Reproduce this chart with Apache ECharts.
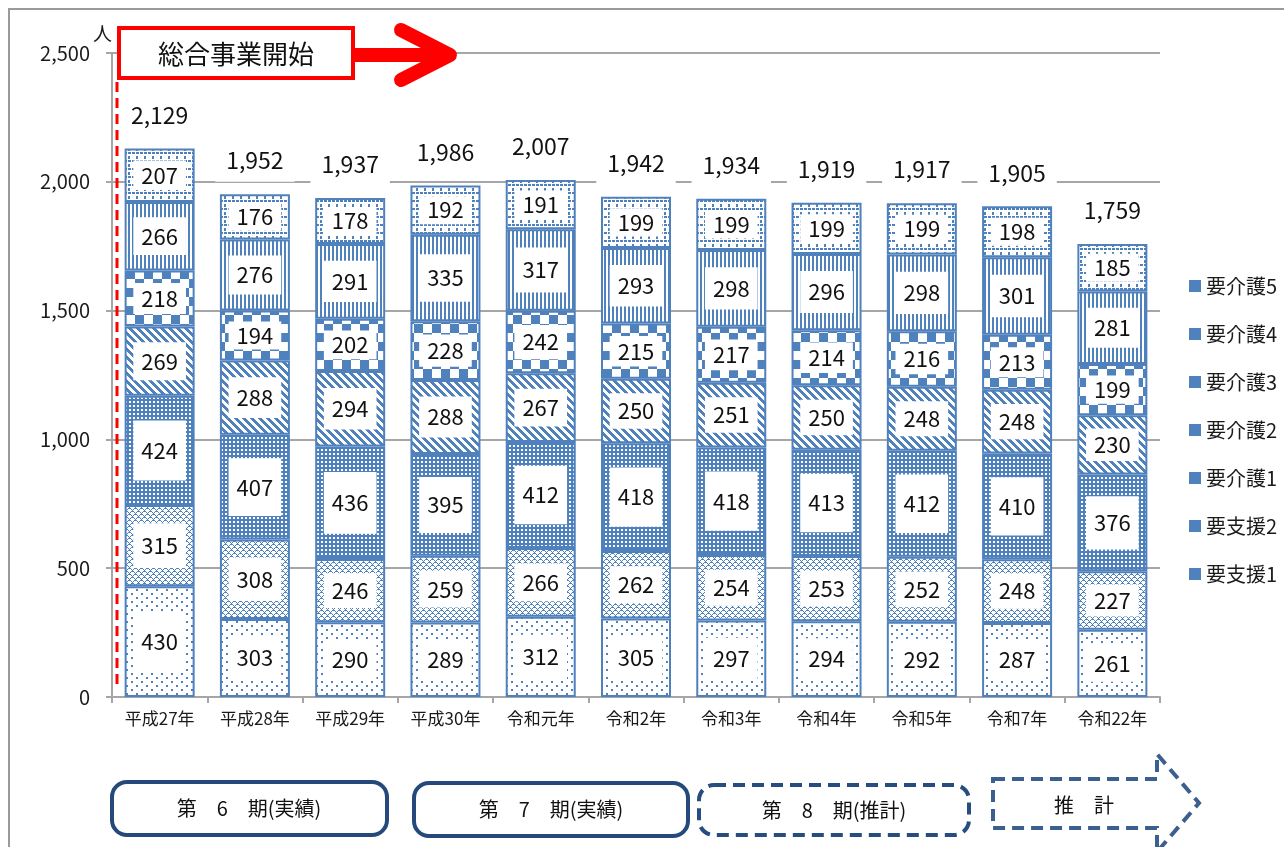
<!DOCTYPE html>
<html lang="ja">
<head>
<meta charset="utf-8">
<title>要支援・要介護認定者数の推移</title>
<script src="https://cdn.jsdelivr.net/npm/echarts@6/dist/echarts.min.js"></script>
<style>
  html, body { margin: 0; padding: 0; background: #fff; }
  #chart { width: 1284px; height: 847px; }
</style>
</head>
<body>
<div id="chart"></div>
<script>
// 年度
const categories = ['平成27年', '平成28年', '平成29年', '平成30年', '令和元年', '令和2年',
                    '令和3年', '令和4年', '令和5年', '令和7年', '令和22年'];

// 認定区分ごとの人数（下から積み上げ）
const shien1 = [430, 303, 290, 289, 312, 305, 297, 294, 292, 287, 261];
const shien2 = [315, 308, 246, 259, 266, 262, 254, 253, 252, 248, 227];
const kaigo1 = [424, 407, 436, 395, 412, 418, 418, 413, 412, 410, 376];
const kaigo2 = [269, 288, 294, 288, 267, 250, 251, 250, 248, 248, 230];
const kaigo3 = [218, 194, 202, 228, 242, 215, 217, 214, 216, 213, 199];
const kaigo4 = [266, 276, 291, 335, 317, 293, 298, 296, 298, 301, 281];
const kaigo5 = [207, 176, 178, 192, 191, 199, 199, 199, 199, 198, 185];

// 合計人数
const totals = [2129, 1952, 1937, 1986, 2007, 1942, 1934, 1919, 1917, 1905, 1759];

// 縦軸
const yMin = 0, yMax = 2500, yStep = 500;

// 期の区分
const periodLabels = ['第　6　期(実績)', '第　7　期(実績)', '第　8　期(推計)', '推　計'];
const startLabel = '総合事業開始';

const FONT = '"Noto Sans CJK JP", "Noto Sans", sans-serif';
const BLUE = '#4f81bd';
const GRID = { left: 112, right: 124, top: 53, bottom: 150 };
const PLOT_H = 847 - GRID.top - GRID.bottom;

// ハッチング用のタイル
function tile(w, h, draw) {
  const c = document.createElement('canvas');
  c.width = w; c.height = h;
  const g = c.getContext('2d');
  g.fillStyle = '#fff';
  g.fillRect(0, 0, w, h);
  g.fillStyle = BLUE;
  draw(g, w, h);
  return { image: c, repeat: 'repeat' };
}
function pixels(w, h, test) {
  return tile(w, h, (g) => {
    for (let y = 0; y < h; y++)
      for (let x = 0; x < w; x++)
        if (test(x, y)) g.fillRect(x, y, 1, 1);
  });
}

const patterns = {
  shien1: tile(10, 8, g => { g.fillRect(1, 1, 2, 2); g.fillRect(6, 5, 2, 2); }),
  shien2: pixels(6, 6, (x, y) => (x + y) % 6 === 0 || ((x - y) % 6 + 6) % 6 === 0 || ((x + y) % 6 === 1 && x % 3 === 0)),
  kaigo1: tile(4, 4, g => { g.fillRect(0, 0, 4, 4); g.fillStyle = '#fff'; g.fillRect(1, 1, 2, 2); }),
  kaigo2: pixels(8, 8, (x, y) => (((x - y) % 8) + 8) % 8 < 4),
  kaigo3: tile(18, 18, g => { g.fillRect(0, 0, 9, 9); g.fillRect(9, 9, 9, 9); }),
  kaigo4: tile(4, 1, g => { g.fillRect(0, 0, 2, 1); }),
  kaigo5: tile(8, 8, g => { g.fillRect(0, 0, 3, 2); g.fillRect(4, 0, 3, 2); g.fillRect(0, 4, 2, 3); })
};

// 各区分の白抜きラベル（区分の高さに合わせて余白を調整）
function withLabelBox(values) {
  return values.map(v => {
    const h = v * PLOT_H / (yMax - yMin);
    const box = Math.max(h * 0.55, 28);
    const pv = Math.max((box - 24) / 2, 2);
    return { value: v, label: { padding: [pv, 8, pv, 8] } };
  });
}

function stackSeries(name, values, pattern) {
  return {
    name: name,
    type: 'bar',
    stack: 'total',
    barWidth: 70,
    data: withLabelBox(values),
    itemStyle: { color: pattern, borderColor: BLUE, borderWidth: 2 },
    label: {
      show: true,
      position: 'inside',
      color: '#111',
      textBorderWidth: 0,
      fontFamily: FONT,
      fontSize: 22,
      lineHeight: 24,
      backgroundColor: '#fff'
    },
    emphasis: { disabled: true }
  };
}

const fmt = v => String(v).replace(/\B(?=(\d{3})+(?!\d))/g, ',');

const legendNames = ['要介護5', '要介護4', '要介護3', '要介護2', '要介護1', '要支援2', '要支援1'];

const chart = echarts.init(document.getElementById('chart'), null, { renderer: 'canvas' });

chart.setOption({
  animation: false,
  backgroundColor: '#fff',
  textStyle: { fontFamily: FONT },
  grid: GRID,
  legend: {
    data: legendNames,
    orient: 'vertical',
    left: 1184,
    top: 271,
    itemWidth: 12,
    itemHeight: 12,
    itemGap: 28,
    icon: 'rect',
    itemStyle: { color: BLUE, borderWidth: 0 },
    textStyle: { fontSize: 20, color: '#1a1a1a', fontFamily: FONT },
    selectedMode: false
  },
  xAxis: {
    type: 'category',
    data: categories,
    axisLine: { lineStyle: { color: '#a6a6a6', width: 2 } },
    axisTick: { show: true, length: 6, lineStyle: { color: '#a6a6a6', width: 2 } },
    axisLabel: { fontSize: 17, color: '#1a1a1a', margin: 13, fontFamily: FONT, interval: 0 }
  },
  yAxis: {
    type: 'value',
    min: yMin,
    max: yMax,
    interval: yStep,
    name: '人',
    nameLocation: 'end',
    nameGap: 10,
    nameTextStyle: { fontSize: 19, color: '#1a1a1a', align: 'right', verticalAlign: 'bottom', fontFamily: FONT },
    axisLine: { show: true, lineStyle: { color: '#a6a6a6', width: 2 } },
    axisTick: { show: true, length: 6, lineStyle: { color: '#a6a6a6', width: 2 } },
    axisLabel: { fontSize: 20, color: '#1a1a1a', margin: 22, formatter: v => fmt(v), fontFamily: FONT },
    splitLine: { show: true, lineStyle: { color: '#a6a6a6', width: 2 } }
  },
  series: [
    stackSeries('要支援1', shien1, patterns.shien1),
    stackSeries('要支援2', shien2, patterns.shien2),
    stackSeries('要介護1', kaigo1, patterns.kaigo1),
    stackSeries('要介護2', kaigo2, patterns.kaigo2),
    stackSeries('要介護3', kaigo3, patterns.kaigo3),
    stackSeries('要介護4', kaigo4, patterns.kaigo4),
    stackSeries('要介護5', kaigo5, patterns.kaigo5),
    {
      name: '合計',
      type: 'scatter',
      data: totals,
      symbolSize: 1,
      itemStyle: { color: 'rgba(0,0,0,0)' },
      label: {
        show: true,
        position: 'top',
        distance: 12,
        formatter: p => fmt(p.value),
        color: '#111',
        opacity: 1,
        textBorderWidth: 0,
        fontFamily: FONT,
        fontSize: 23,
        lineHeight: 24,
        backgroundColor: '#fff',
        padding: [9, 11]
      },
      z: 5,
      emphasis: { disabled: true }
    }
  ],
  graphic: {
    elements: [
      // 外枠
      { type: 'rect', z: 0, silent: true,
        shape: { x: 9, y: 9, width: 1400, height: 900 },
        style: { fill: 'none', stroke: '#9a9a9a', lineWidth: 2 } },
      // 総合事業開始
      { type: 'line', z: 100, silent: true,
        shape: { x1: 117, y1: 82, x2: 117, y2: 690 },
        style: { stroke: '#ff0000', lineWidth: 3, lineDash: [10, 6] } },
      { type: 'polyline', z: 100, silent: true,
        shape: { points: [[355, 55], [440, 55]] },
        style: { stroke: '#ff0000', lineWidth: 14, fill: null } },
      { type: 'polyline', z: 100, silent: true,
        shape: { points: [[401, 30], [450, 55], [401, 80]] },
        style: { stroke: '#ff0000', lineWidth: 14, lineCap: 'round', lineJoin: 'round', fill: null } },
      { type: 'rect', z: 101, silent: true,
        shape: { x: 119, y: 28, width: 234, height: 50 },
        style: { fill: '#fff', stroke: '#ff0000', lineWidth: 4 } },
      { type: 'text', z: 102, silent: true,
        style: { text: startLabel, x: 236, y: 54, font: '26px ' + FONT, fill: '#111',
                 textAlign: 'center', textVerticalAlign: 'middle', verticalAlign: 'middle' } },
      // 計画期間
      { type: 'rect', z: 100, silent: true,
        shape: { x: 112, y: 782, width: 275, height: 53, r: 15 },
        style: { fill: '#fff', stroke: '#24497a', lineWidth: 4 } },
      { type: 'text', z: 101, silent: true,
        style: { text: periodLabels[0], x: 249, y: 808, font: '20px ' + FONT, fill: '#111',
                 textAlign: 'center', textVerticalAlign: 'middle', verticalAlign: 'middle' } },
      { type: 'rect', z: 100, silent: true,
        shape: { x: 414, y: 783, width: 274, height: 53, r: 15 },
        style: { fill: '#fff', stroke: '#24497a', lineWidth: 4 } },
      { type: 'text', z: 101, silent: true,
        style: { text: periodLabels[1], x: 551, y: 809, font: '20px ' + FONT, fill: '#111',
                 textAlign: 'center', textVerticalAlign: 'middle', verticalAlign: 'middle' } },
      { type: 'rect', z: 100, silent: true,
        shape: { x: 699, y: 785, width: 270, height: 50, r: 15 },
        style: { fill: '#fff', stroke: '#274d80', lineWidth: 4, lineDash: [12, 7] } },
      { type: 'text', z: 101, silent: true,
        style: { text: periodLabels[2], x: 834, y: 810, font: '20px ' + FONT, fill: '#111',
                 textAlign: 'center', textVerticalAlign: 'middle', verticalAlign: 'middle' } },
      { type: 'polygon', z: 100, silent: true,
        shape: { points: [[993, 779], [1157, 779], [1157, 754], [1199, 803], [1157, 852], [1157, 828], [993, 828]] },
        style: { fill: '#fff', stroke: '#3b5f8e', lineWidth: 4, lineDash: [12, 7] } },
      { type: 'text', z: 101, silent: true,
        style: { text: periodLabels[3], x: 1084, y: 805, font: '20px ' + FONT, fill: '#111',
                 textAlign: 'center', textVerticalAlign: 'middle', verticalAlign: 'middle' } }
    ]
  }
});
</script>
</body>
</html>
